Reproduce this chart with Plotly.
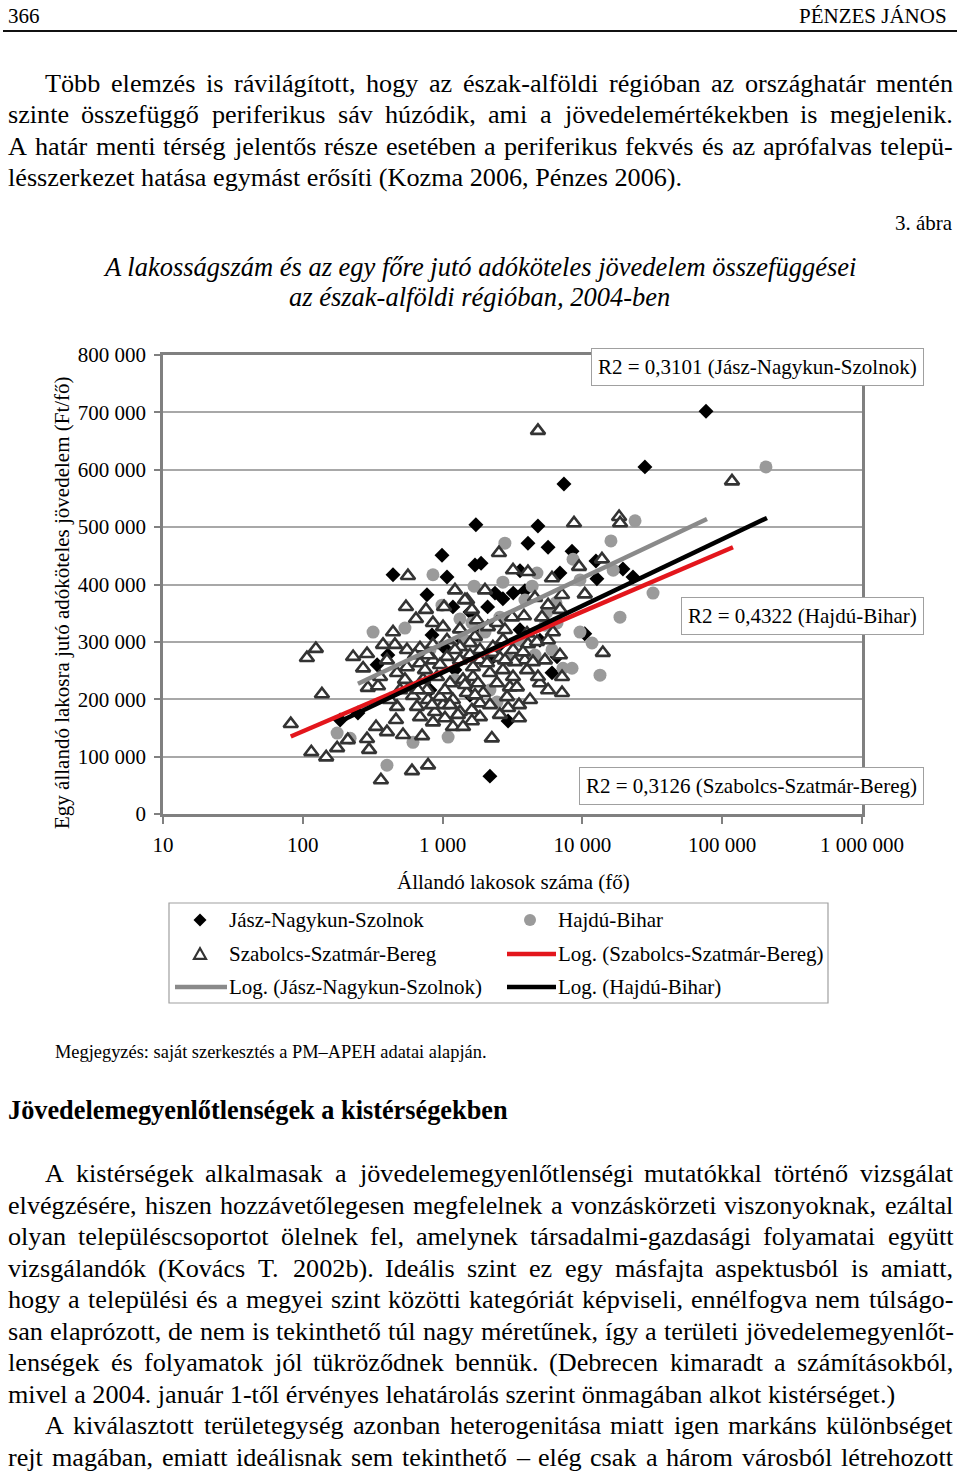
import unicodedata
import plotly.graph_objects as go

W, H = 960, 1475

# ---------------- data ----------------
jnsz_pop = [76600, 28000, 7380, 1730, 4810, 4080, 5680, 8430, 990, 442, 1075, 1705, 1885,
            12500, 12700, 19500, 23000, 6910, 3580, 773, 2370, 3200, 3880, 1185, 2100, 2700,
            10400, 6580, 6060, 2940, 2180, 340, 406, 185, 248, 1570, 1950, 1380, 1040, 2570,
            1570, 812, 3580, 4970, 840, 1226, 2180]
jnsz_inc = [702000, 605000, 575000, 504000, 502000, 472000, 465000, 458000, 451000, 417000,
            413000, 434000, 437000, 441000, 410000, 427000, 413000, 420000, 424000, 382000,
            385000, 385000, 389000, 361000, 361000, 375000, 314000, 274000, 246000, 162000,
            66000, 260000, 277000, 164000, 176000, 352000, 321000, 303000, 289000, 295000,
            207000, 216000, 321000, 303000, 312000, 251000, 268000]

hb_pop = [205600, 23800, 16000, 2790, 8570, 16600, 4730, 853, 9610, 1680, 2700, 4370, 32000,
          990, 1330, 538, 318, 1620, 2010, 2570, 5580, 6580, 9610, 11720, 6060, 7260, 8430,
          13360, 18570, 1095, 614, 2450, 176, 218, 400, 6470, 3580, 4580, 1850, 1226, 2180,
          3880, 3030, 1445, 5400, 812]
hb_inc = [605000, 511000, 476000, 472000, 444000, 425000, 420000, 417000, 408000, 397000,
          404000, 397000, 385000, 364000, 340000, 324000, 317000, 333000, 317000, 343000,
          352000, 333000, 317000, 298000, 286000, 254000, 254000, 242000, 343000, 134000,
          125000, 195000, 141000, 132000, 85000, 368000, 303000, 277000, 277000, 234000,
          216000, 373000, 268000, 303000, 329000, 286000]

szszb_pop = [4810, 117500, 18300, 18600, 8710, 565, 2530, 3190, 4080, 6060, 9460, 13800, 7150,
             10400, 3140, 3820, 5140, 6160, 547, 760, 442, 645, 1024, 1496, 853, 1007, 1331,
             1622, 1705, 124, 107, 229, 288, 270, 137, 292, 345, 82, 115, 147, 176, 210, 288,
             298, 334, 400, 464, 521, 713, 362, 604, 787, 472, 656, 787, 883, 1007, 14000,
             7150, 7150, 3520, 3520, 2250, 1850, 1950, 2890, 2180, 2700, 3190, 4020, 3880,
             3190, 2290, 1850, 1650, 2450, 1620, 4970, 4080, 1445, 1760, 2110, 2450, 2790,
             4020, 4730, 2700, 2290, 1850, 1570, 1330, 1075, 853, 689, 556, 2570, 3290, 3760,
             4430, 2080, 1650, 1330, 1075, 853, 689, 556, 3030, 1790, 1400, 1129, 912, 725,
             584, 1490, 1185, 958, 773, 614, 1850, 1330, 853, 689, 1620, 3400, 5400, 4810,
             5680, 400, 357, 472, 456, 375, 496, 420, 1226, 2010, 4580, 5680, 6910, 5680,
             6910, 1185, 1400, 1040, 2570, 2940, 4220,
             635, 748, 958, 1226, 1445, 1040, 840, 667, 1570, 1288, 538, 787, 1129, 1705,
             2182, 2794]
szszb_inc = [668000, 580000, 518000, 507000, 507000, 415000, 455000, 425000, 422000, 411000,
             431000, 444000, 382000, 383000, 343000, 345000, 343000, 317000, 361000, 356000,
             317000, 340000, 361000, 373000, 333000, 326000, 322000, 356000, 309000, 288000,
             272000, 274000, 279000, 254000, 209000, 220000, 223000, 157000, 108000, 99000,
             115000, 129000, 131000, 112000, 152000, 143000, 164000, 138000, 136000, 59000,
             75000, 85000, 187000, 187000, 199000, 178000, 190000, 281000, 239000, 211000,
             190000, 167000, 132000, 169000, 211000, 204000, 246000, 251000, 239000, 251000,
             268000, 286000, 281000, 268000, 239000, 228000, 181000, 228000, 296000, 373000,
             338000, 326000, 333000, 321000, 315000, 300000, 303000, 291000, 286000, 298000,
             291000, 303000, 295000, 289000, 286000, 272000, 265000, 282000, 265000, 263000,
             256000, 268000, 274000, 268000, 263000, 256000, 221000, 228000, 234000, 228000,
             239000, 234000, 221000, 211000, 199000, 204000, 216000, 206000, 193000, 178000,
             160000, 169000, 162000, 221000, 268000, 239000, 216000, 268000, 239000, 246000,
             295000, 295000, 216000, 199000, 390000, 390000, 377000, 364000, 356000, 303000,
             277000, 152000, 152000, 167000, 173000, 185000, 199000,
             277000, 251000, 260000, 286000, 225000, 216000, 190000, 216000, 277000, 173000,
             234000, 277000, 190000, 207000, 190000, 268000]

# logarithmic trend lines (end points)
trend_szszb_pop = [82, 119400]
trend_szszb_inc = [135000, 465000]
trend_jnsz_pop = [248, 77800]
trend_jnsz_inc = [227000, 514000]
trend_hb_pop = [176, 209000]
trend_hb_inc = [159000, 516000]

x_tickvals = [10, 100, 1000, 10000, 100000, 1000000]
x_ticktext = ["10", "100", "1 000", "10 000", "100 000", "1 000 000"]
y_tickvals = [0, 100000, 200000, 300000, 400000, 500000, 600000, 700000, 800000]
y_ticktext = ["0", "100 000", "200 000", "300 000", "400 000", "500 000", "600 000",
              "700 000", "800 000"]

r2_labels = ["R2 = 0,3101 (Jász-Nagykun-Szolnok)", "R2 = 0,4322 (Hajdú-Bihar)",
             "R2 = 0,3126 (Szabolcs-Szatmár-Bereg)"]
legend_labels = ["Jász-Nagykun-Szolnok", "Hajdú-Bihar", "Szabolcs-Szatmár-Bereg",
                 "Log. (Szabolcs-Szatmár-Bereg)", "Log. (Jász-Nagykun-Szolnok)", "Log. (Hajdú-Bihar)"]

# ---------------- styling helpers ----------------
SERIF = "Liberation Serif, Times New Roman, serif"
RED = "#e3161c"
GRAYLINE = "#8a8a8a"
CIRCLE = "#9a9a9a"
TRI = "#333333"


def X(px):
    return px / W


def Y(py):
    return 1 - py / H


TW = {' ': 250, 'a': 444, 'b': 500, 'c': 444, 'd': 500, 'e': 444, 'f': 333, 'g': 500, 'h': 500,
      'i': 278, 'j': 278, 'k': 500, 'l': 278, 'm': 778, 'n': 500, 'o': 500, 'p': 500, 'q': 500,
      'r': 333, 's': 389, 't': 278, 'u': 500, 'v': 500, 'w': 722, 'x': 500, 'y': 500, 'z': 444,
      'A': 722, 'B': 667, 'C': 667, 'D': 722, 'E': 611, 'F': 556, 'G': 722, 'H': 722, 'I': 333,
      'J': 389, 'K': 722, 'L': 611, 'M': 889, 'N': 722, 'O': 722, 'P': 556, 'Q': 722, 'R': 667,
      'S': 556, 'T': 611, 'U': 722, 'V': 722, 'W': 944, 'X': 722, 'Y': 722, 'Z': 611,
      ',': 250, '.': 250, '-': 333, '(': 333, ')': 333, ':': 278, ';': 278, '–': 500, '=': 564,
      '/': 278}


def units(s):
    t = 0
    for ch in s:
        b = unicodedata.normalize('NFD', ch)[0]
        t += TW.get(b, 500)
    return t / 1000.0


annotations = []
shapes = []
BODY = 26.2


def add_line(text, y, x0, x1=None, size=BODY):
    if x1 is None:
        annotations.append(dict(text=text, x=X(x0), y=Y(y), xref='paper', yref='paper',
                                xanchor='left', yanchor='middle', showarrow=False,
                                borderpad=0, borderwidth=0,
                                font=dict(family=SERIF, size=size, color='black')))
        return
    words = text.split(' ')
    ww = [units(w) * size for w in words]
    gap = (x1 - x0 - sum(ww)) / (len(words) - 1)
    x = x0
    for w, wd in zip(words, ww):
        annotations.append(dict(text=w, x=X(x), y=Y(y), xref='paper', yref='paper',
                                xanchor='left', yanchor='middle', showarrow=False,
                                borderpad=0, borderwidth=0,
                                font=dict(family=SERIF, size=size, color='black')))
        x += wd + gap


def txt(text, x, y, size=21, xanchor='left', italic=False, bold=False, angle=0):
    annotations.append(dict(text=text, x=X(x), y=Y(y), xref='paper', yref='paper',
                            xanchor=xanchor, yanchor='middle', showarrow=False,
                            borderpad=0, borderwidth=0, textangle=angle,
                            font=dict(family=SERIF, size=size, color='black',
                                      style='italic' if italic else 'normal',
                                      weight='bold' if bold else 'normal')))


# ---------------- page text ----------------
txt("366", 8, 16, 21)
txt("PÉNZES JÁNOS", 947, 16, 21, xanchor='right')
shapes.append(dict(type='line', xref='paper', yref='paper', x0=X(3), x1=X(957), y0=Y(31), y1=Y(31),
                   line=dict(color='#111', width=2)))

add_line("Több elemzés is rávilágított, hogy az észak-alföldi régióban az országhatár mentén", 84, 45, 953)
add_line("szinte összefüggő periferikus sáv húzódik, ami a jövedelemértékekben is megjelenik.", 115, 8, 953)
add_line("A határ menti térség jelentős része esetében a periferikus fekvés és az aprófalvas telepü-", 147, 8, 953)
add_line("lésszerkezet hatása egymást erősíti (Kozma 2006, Pénzes 2006).", 178, 8)

txt("3. ábra", 953, 223, 21, xanchor='right')
txt("A lakosságszám és az egy főre jutó adóköteles jövedelem összefüggései", 479, 267, 26.5, 'center', italic=True)
txt("az észak-alföldi régióban, 2004-ben", 479, 297, 26.5, 'center', italic=True)

txt("Megjegyzés: saját szerkesztés a PM–APEH adatai alapján.", 55, 1052, 18.4)
txt("Jövedelemegyenlőtlenségek a kistérségekben", 8, 1110, 26.3, bold=True)

para = [
    ("A kistérségek alkalmasak a jövedelemegyenlőtlenségi mutatókkal történő vizsgálat", 1173, 45, 953),
    ("elvégzésére, hiszen hozzávetőlegesen megfelelnek a vonzáskörzeti viszonyoknak, ezáltal", 1205, 8, 953),
    ("olyan településcsoportot ölelnek fel, amelynek társadalmi-gazdasági folyamatai együtt", 1236, 8, 953),
    ("vizsgálandók (Kovács T. 2002b). Ideális szint ez egy másfajta aspektusból is amiatt,", 1268, 8, 953),
    ("hogy a települési és a megyei szint közötti kategóriát képviseli, ennélfogva nem túlságo-", 1299, 8, 953),
    ("san elaprózott, de nem is tekinthető túl nagy méretűnek, így a területi jövedelemegyenlőt-", 1331, 8, 953),
    ("lenségek és folyamatok jól tükröződnek bennük. (Debrecen kimaradt a számításokból,", 1362, 8, 953),
    ("mivel a 2004. január 1-től érvényes lehatárolás szerint önmagában alkot kistérséget.)", 1394, 8, None),
    ("A kiválasztott területegység azonban heterogenitása miatt igen markáns különbséget", 1425, 45, 953),
    ("rejt magában, emiatt ideálisnak sem tekinthető – elég csak a három városból létrehozott", 1457, 8, 953),
]
for t, y, x0, x1 in para:
    add_line(t, y, x0, x1)

# ---------------- chart ----------------
PL, PR, PT, PB = 163, 862, 355, 814
fig = go.Figure()

fig.add_trace(go.Scatter(x=jnsz_pop, y=jnsz_inc, mode='markers', name=legend_labels[0],
                         marker=dict(symbol='diamond', size=11.5, color='black')))
fig.add_trace(go.Scatter(x=hb_pop, y=hb_inc, mode='markers', name=legend_labels[1],
                         marker=dict(symbol='circle', size=13, color=CIRCLE)))
fig.add_trace(go.Scatter(x=szszb_pop, y=szszb_inc, mode='markers', name=legend_labels[2],
                         marker=dict(symbol='triangle-up', size=12.5, color='white',
                                     line=dict(color=TRI, width=2.6))))
fig.add_trace(go.Scatter(x=trend_szszb_pop, y=trend_szszb_inc, mode='lines', name=legend_labels[3],
                         line=dict(color=RED, width=4.5)))
fig.add_trace(go.Scatter(x=trend_jnsz_pop, y=trend_jnsz_inc, mode='lines', name=legend_labels[4],
                         line=dict(color=GRAYLINE, width=4.5)))
fig.add_trace(go.Scatter(x=trend_hb_pop, y=trend_hb_inc, mode='lines', name=legend_labels[5],
                         line=dict(color='black', width=4.5)))

# axis titles
txt("Állandó lakosok száma (fő)", 513, 882, 21, 'center')
txt("Egy állandó lakosra jutó adóköteles jövedelem (Ft/fő)", 62, 603, 21, 'center', angle=-90)

# R2 boxes
for label, (xr, yc) in zip(r2_labels, [(924, 367), (924, 616), (924, 786)]):
    annotations.append(dict(text=label, x=X(xr), y=Y(yc), xref='paper', yref='paper',
                            xanchor='right', yanchor='middle', showarrow=False,
                            bgcolor='white', bordercolor='#a0a0a0', borderwidth=1, borderpad=6,
                            font=dict(family=SERIF, size=21, color='black')))

# legend (drawn manually, two columns)
shapes.append(dict(type='rect', xref='paper', yref='paper', x0=X(169), x1=X(828), y0=Y(903), y1=Y(1003),
                   line=dict(color='#a0a0a0', width=1.2), fillcolor='white', layer='below'))


def diamond(cx, cy, r=6.5):
    return f"M{X(cx)},{Y(cy - r)} L{X(cx + r)},{Y(cy)} L{X(cx)},{Y(cy + r)} L{X(cx - r)},{Y(cy)} Z"


def triangle(cx, cy, r=6):
    return f"M{X(cx - r)},{Y(cy + r * 0.8)} L{X(cx + r)},{Y(cy + r * 0.8)} L{X(cx)},{Y(cy - r * 0.95)} Z"


shapes.append(dict(type='path', xref='paper', yref='paper', path=diamond(200, 920),
                   fillcolor='black', line=dict(color='black', width=0)))
shapes.append(dict(type='circle', xref='paper', yref='paper', x0=X(524), x1=X(536), y0=Y(926), y1=Y(914),
                   fillcolor=CIRCLE, line=dict(color=CIRCLE, width=0)))
shapes.append(dict(type='path', xref='paper', yref='paper', path=triangle(200, 954),
                   fillcolor='white', line=dict(color=TRI, width=2.2)))
shapes.append(dict(type='line', xref='paper', yref='paper', x0=X(507), x1=X(556), y0=Y(954), y1=Y(954),
                   line=dict(color=RED, width=4.5)))
shapes.append(dict(type='line', xref='paper', yref='paper', x0=X(175), x1=X(227), y0=Y(987), y1=Y(987),
                   line=dict(color=GRAYLINE, width=4.5)))
shapes.append(dict(type='line', xref='paper', yref='paper', x0=X(507), x1=X(556), y0=Y(987), y1=Y(987),
                   line=dict(color='black', width=4.5)))
for label, (lx, ly) in zip(legend_labels, [(229, 920), (558, 920), (229, 954), (558, 954),
                                            (229, 987), (558, 987)]):
    txt(label, lx, ly, 21)

axis_common = dict(showline=True, mirror=True, linecolor='#808080', linewidth=2.5,
                   ticks='outside', tickcolor='#808080', tickwidth=1.5, zeroline=False,
                   automargin=False,
                   tickfont=dict(family=SERIF, size=21, color='black'))

fig.update_layout(
    width=W, height=H,
    autosize=False,
    margin=dict(l=0, r=0, t=0, b=0, pad=0, autoexpand=False),
    paper_bgcolor='white', plot_bgcolor='white',
    showlegend=False,
    xaxis=dict(type='log', range=[1, 6], domain=[X(PL), X(PR)], showgrid=False,
               tickvals=x_tickvals, ticktext=x_ticktext, ticklen=7, ticklabelstandoff=3,
               **axis_common),
    yaxis=dict(range=[0, 800000], domain=[Y(PB), Y(PT)], showgrid=True, gridcolor='#a8a8a8',
               gridwidth=1.5, tickvals=y_tickvals, ticktext=y_ticktext, ticklen=6,
               ticklabelstandoff=4, **axis_common),
    annotations=annotations,
    shapes=shapes,
)

fig.write_html("out.html", config={'responsive': False, 'displayModeBar': False},
               post_script="document.body.style.margin='0';document.body.style.overflow='hidden';")
